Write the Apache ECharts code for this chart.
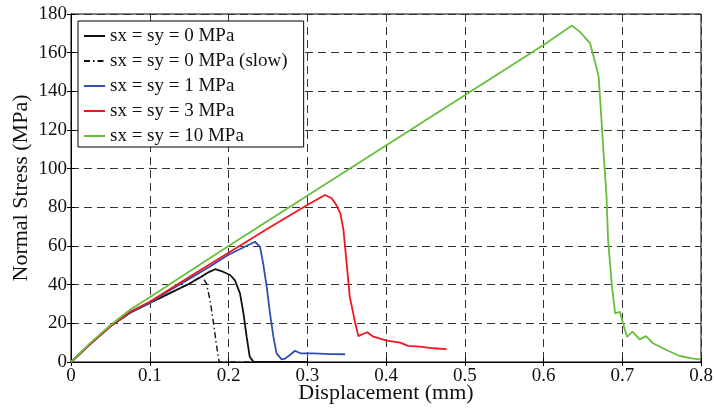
<!DOCTYPE html>
<html><head><meta charset="utf-8">
<script src="https://cdn.jsdelivr.net/npm/echarts@6/dist/echarts.min.js"></script>
<style>html,body{margin:0;padding:0;background:#fff}#c{width:714px;height:410px}</style>
</head><body><div id="c"></div>
<script>
const seriesNames = ['sx = sy = 0 MPa','sx = sy = 0 MPa (slow)','sx = sy = 1 MPa','sx = sy = 3 MPa','sx = sy = 10 MPa'];
const xTicks = {min:0, max:0.8, step:0.1};
const yTicks = {min:0, max:180, step:20};
const s0 = [[0,0],[0.025,9.5],[0.05,18.5],[0.075,25.5],[0.1,30.5],[0.125,35.5],[0.15,40.5],[0.165,44],[0.175,46.5],[0.183,48],[0.193,46.7],[0.202,45],[0.208,42.4],[0.2146,35.5],[0.219,25.2],[0.223,13.1],[0.227,2.7],[0.2315,0.2],[0.24,0],[0.30,0]];
const s0slow = [[0,0],[0.025,9.5],[0.05,18.5],[0.075,25.5],[0.1,30.5],[0.125,35.5],[0.15,40.5],[0.166,44.5],[0.172,40.7],[0.1765,32],[0.181,20],[0.185,7.9],[0.188,0.2],[0.195,0],[0.30,0]];
const s1 = [[0,0],[0.025,9.5],[0.05,18.5],[0.075,25.5],[0.1,30.5],[0.125,37],[0.15,43],[0.175,49],[0.2,55.5],[0.22,59.5],[0.2336,62.2],[0.240,59.6],[0.244,51],[0.2485,39],[0.2527,25.2],[0.257,13.1],[0.261,4.5],[0.2675,1.4],[0.272,1.8],[0.278,3.6],[0.2845,5.8],[0.291,4.5],[0.308,4.5],[0.329,4.1],[0.348,4.0]];
const s3 = [[0,0],[0.025,9.5],[0.05,18.5],[0.075,26],[0.1,31.2],[0.15,44],[0.2,56.5],[0.25,69],[0.3,81.2],[0.3225,86.4],[0.331,84.7],[0.337,81.2],[0.342,76.9],[0.346,68.3],[0.350,51],[0.354,33.8],[0.361,20],[0.365,13.4],[0.371,14.5],[0.376,15.4],[0.384,13.1],[0.401,11],[0.418,10],[0.428,8.3],[0.443,7.9],[0.460,7.1],[0.477,6.7]];
const s10 = [[0,0],[0.025,10],[0.05,19],[0.075,27],[0.1,33.5],[0.2,60],[0.3,86],[0.4,112],[0.5,138],[0.6,164],[0.62,169.5],[0.636,174],[0.646,170.9],[0.659,164.9],[0.665,156],[0.670,147.6],[0.672,135.5],[0.676,109.7],[0.680,86],[0.682,63],[0.687,39],[0.691,25.2],[0.697,26],[0.701,20],[0.706,13],[0.713,15.7],[0.722,11.7],[0.730,13.4],[0.739,9.7],[0.756,6.2],[0.773,3.1],[0.790,1.7],[0.799,1.4]];

const FONT = '"Liberation Serif", "Times New Roman", serif';
const chart = echarts.init(document.getElementById('c'), null, {renderer:'canvas'});
const gridLine = {show:true, lineStyle:{color:'#333', width:1, type:[8,5]}};
const mk = (name, data, color, type, w) => ({
  name, type:'line', data, symbol:'none', showSymbol:false, smooth:false, animation:false,
  lineStyle:{color, width:w||1.8, type:type||'solid'}, itemStyle:{color}
});
chart.setOption({
  animation:false,
  textStyle:{fontFamily:FONT},
  grid:{left:71, right:13, top:14, bottom:48, show:true, borderColor:'#000', borderWidth:1,
        containLabel:false, outerBoundsMode:'none'},
  legend:{
    orient:'vertical', left:78, top:21, itemWidth:21, itemHeight:14, itemGap:5,
    padding:[5,16,1,5], backgroundColor:'#fff', borderColor:'#000', borderWidth:1, borderRadius:0,
    itemStyle:{opacity:0},
    textStyle:{fontFamily:FONT, fontSize:19, lineHeight:20, color:'#111'},
    data:seriesNames
  },
  xAxis:[{
    type:'value', min:xTicks.min, max:xTicks.max, interval:xTicks.step,
    name:'Displacement (mm)', nameLocation:'middle', nameGap:20, nameMoveOverlap:false,
    nameTextStyle:{fontFamily:FONT, fontSize:22, color:'#111'},
    axisLine:{show:true, lineStyle:{color:'#000', width:1}},
    axisTick:{show:true, inside:true, length:4, lineStyle:{color:'#000'}},
    axisLabel:{fontFamily:FONT, fontSize:19, color:'#111', margin:5,
      formatter:v => v===0 ? '0' : v.toFixed(1)},
    splitLine:gridLine
  },{
    type:'value', position:'top', min:xTicks.min, max:xTicks.max, interval:xTicks.step,
    axisLine:{show:true, lineStyle:{color:'#000'}},
    axisTick:{show:true, inside:true, length:4, lineStyle:{color:'#000'}},
    axisLabel:{show:false}, splitLine:{show:false}
  }],
  yAxis:[{
    type:'value', min:yTicks.min, max:yTicks.max, interval:yTicks.step,
    name:'Normal Stress (MPa)', nameLocation:'middle', nameGap:39, nameMoveOverlap:false,
    nameTextStyle:{fontFamily:FONT, fontSize:22, color:'#111'},
    axisLine:{show:true, lineStyle:{color:'#000', width:1}},
    axisTick:{show:true, inside:true, length:4, lineStyle:{color:'#000'}},
    axisLabel:{fontFamily:FONT, fontSize:19, color:'#111', margin:4},
    splitLine:gridLine
  },{
    type:'value', position:'right', min:yTicks.min, max:yTicks.max, interval:yTicks.step,
    axisLine:{show:true, lineStyle:{color:'#000'}},
    axisTick:{show:true, inside:true, length:4, lineStyle:{color:'#000'}},
    axisLabel:{show:false}, splitLine:{show:false}
  }],
  series:[
    mk(seriesNames[0], s0, '#111111'),
    mk(seriesNames[1], s0slow, '#111111', [6,3,1.5,3], 1.4),
    mk(seriesNames[2], s1, '#2f50b0'),
    mk(seriesNames[3], s3, '#f0161e'),
    mk(seriesNames[4], s10, '#66bf3b')
  ]
});
</script></body></html>
